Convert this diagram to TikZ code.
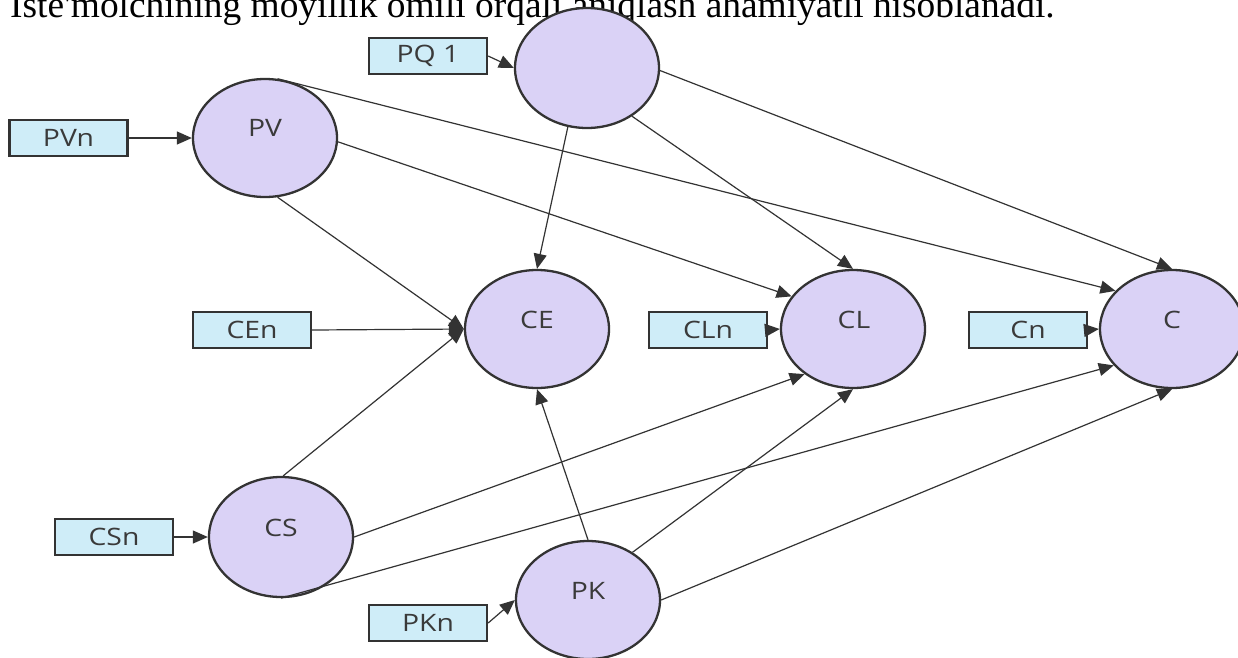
\documentclass[tikz,border=0pt]{standalone}
\usepackage{fontspec}
\usetikzlibrary{shapes.geometric,arrows.meta}
\newfontfamily\labelfont[FakeStretch=1.18]{Open Sans}
\newfontfamily\bodyserif{Liberation Serif}
\definecolor{edgecol}{HTML}{333333}
\definecolor{txtcol}{HTML}{3A3A3A}
\definecolor{boxfill}{HTML}{CFEDF8}
\definecolor{ellfill}{HTML}{DAD2F6}
\tikzset{
  latent/.style={shape=ellipse, draw=edgecol, line width=2.3pt, fill=ellfill,
    minimum width=144pt, minimum height=118pt, inner sep=0pt},
  indicator/.style={shape=rectangle, draw=edgecol, line width=2.3pt, fill=boxfill,
    minimum width=118pt, minimum height=36pt, inner sep=0pt,
    font=\labelfont\fontsize{24}{26}\selectfont, text=txtcol},
  varname/.style={font=\labelfont\fontsize{24}{26}\selectfont, text=txtcol, inner sep=0pt},
  link/.style={draw=edgecol, line width=1.2pt, -{Triangle[length=15pt,width=13pt]}}
}
\begin{document}
\begin{tikzpicture}[x=1pt, y=-1pt]
\clip (0,0) rectangle (1238,657);
\fill[white] (0,0) rectangle (1238,657);

% running text line above the model
\node[anchor=base west, inner sep=0pt, font=\bodyserif\fontsize{37.4}{44}\selectfont] (caption)
  at (10,17) {Iste'molchining moyillik omili orqali aniqlash ahamiyatli hisoblanadi.};

% latent variables
\node[latent, minimum height=120pt] (pq) at (587,68) {};
\node[latent] (pv) at (265,138) {};
\node[latent] (ce) at (537,329) {};
\node[latent] (cl) at (853,329) {};
\node[latent] (c)  at (1172,329) {};
\node[latent, minimum height=120pt] (cs) at (281,537) {};
\node[latent] (pk) at (588,600) {};

\node[varname] (pvlbl) at (265,128) {PV};
\node[varname] (celbl) at (537,320) {CE};
\node[varname] (cllbl) at (854,320) {CL};
\node[varname] (clbl)  at (1172,320) {C};
\node[varname] (cslbl) at (281,528) {CS};
\node[varname] (pklbl) at (588,591) {PK};

% indicators
\node[indicator] (pqone) at (428,56) {PQ 1};
\node[indicator] (pvn) at (68.5,138) {PVn};
\node[indicator] (cen) at (252,330) {CEn};
\node[indicator] (cln) at (708,330) {CLn};
\node[indicator] (cn)  at (1028,330) {Cn};
\node[indicator] (csn) at (114,537) {CSn};
\node[indicator] (pkn) at (428,623) {PKn};

% indicator links
\draw[link] (pqone.east) -- (pq.west);
\draw[link] (pvn.east) -- (pv.west);
\draw[link] (cen.east) -- (ce.west);
\draw[link] (cln.east) -- (cl.west);
\draw[link] (cn.east) -- (c.west);
\draw[link] (csn.east) -- (cs.west);
\draw[link] (pkn.east) -- (pk.west);

% structural paths
\draw[link] (pq.252) -- (ce.north);
\draw[link] (pq.313) -- (cl.north);
\draw[link] (pq.358) -- (c.north);
\draw[link] (pv.78) -- (c.146);
\draw[link] (pv.357) -- (cl.152);
\draw[link] (pv.282) -- (ce.west);
\draw[link] (cs.88) -- (ce.west);
\draw[link] (cs.east) -- (cl.223);
\draw[link] (cs.south) -- (c.212);
\draw[link] (pk.north) -- (ce.south);
\draw[link] (pk.47) -- (cl.south);
\draw[link] (pk.east) -- (c.south);
\end{tikzpicture}
\end{document}
